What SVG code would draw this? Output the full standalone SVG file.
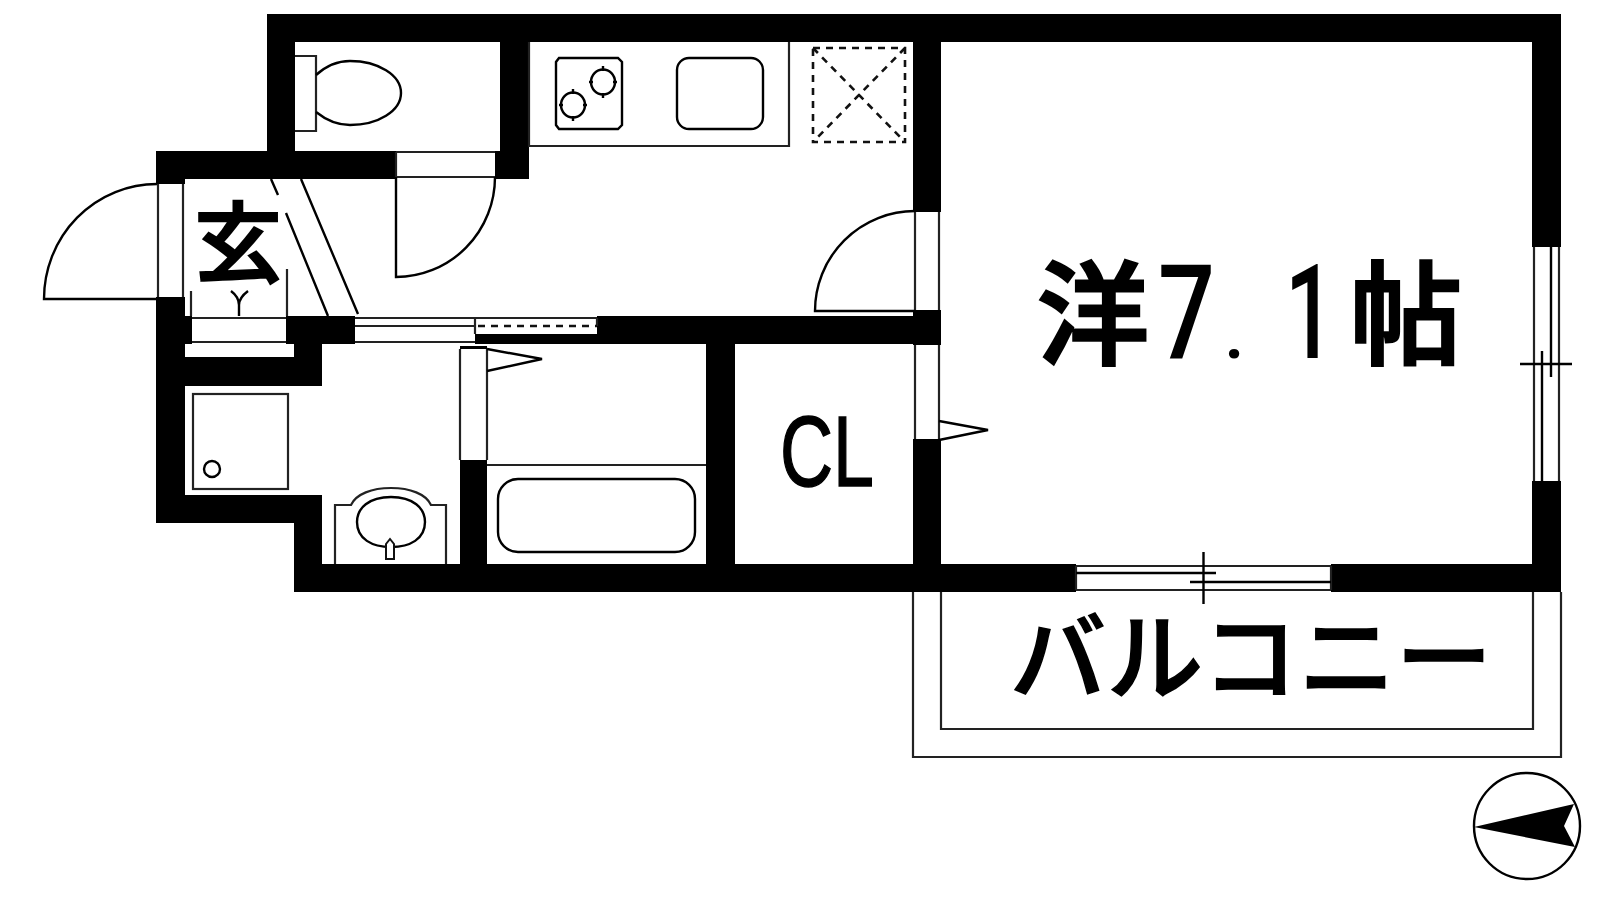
<svg xmlns="http://www.w3.org/2000/svg" width="1600" height="900" viewBox="0 0 1600 900">
<style>
.w{fill:#000}
.l{fill:none;stroke:#222;stroke-width:2.200}
.k{fill:none;stroke:#000;stroke-width:2.400}
.d{fill:none;stroke:#111;stroke-width:2.600;stroke-dasharray:7 6}
.t{fill:#000;stroke:#000;font-family:"Noto Sans CJK JP","Liberation Sans",sans-serif;font-weight:500}
.n{fill:#000;font-family:Roboto,"Liberation Sans",sans-serif;font-weight:500}
</style>
<rect width="1600" height="900" fill="#fff"/>
<g id="walls">
<rect class="w" x="267" y="14" width="1294" height="28"/>
<rect class="w" x="267" y="14" width="28" height="140"/>
<rect class="w" x="156" y="151" width="240" height="28"/>
<rect class="w" x="495" y="151" width="34" height="28"/>
<rect class="w" x="500" y="42" width="29" height="137"/>
<rect class="w" x="913" y="42" width="28" height="170"/>
<rect class="w" x="1532" y="14" width="29" height="233"/>
<rect class="w" x="1532" y="481" width="29" height="111"/>
<rect class="w" x="156" y="151" width="29" height="33"/>
<rect class="w" x="156" y="297" width="29" height="226"/>
<rect class="w" x="156" y="495" width="166" height="28"/>
<rect class="w" x="294" y="495" width="28" height="97"/>
<rect class="w" x="294" y="564" width="782" height="28"/>
<rect class="w" x="1331" y="564" width="230" height="28"/>
<rect class="w" x="185" y="316" width="7" height="28"/>
<rect class="w" x="286" y="316" width="69" height="28"/>
<rect class="w" x="294" y="343" width="28" height="43"/>
<rect class="w" x="185" y="357" width="137" height="29"/>
<rect class="w" x="475" y="334" width="122" height="10"/>
<rect class="w" x="597" y="316" width="344" height="28"/>
<rect class="w" x="913" y="310" width="28" height="35"/>
<rect class="w" x="913" y="439" width="28" height="125"/>
<rect class="w" x="460" y="460" width="27" height="105"/>
<rect class="w" x="460" y="346" width="27" height="3"/>
<rect class="w" x="706" y="344" width="29" height="221"/>
</g>
<g id="entrance">
<path class="l" d="M158 184V297M183 184V297"/>
<path class="k" d="M157 184A113 115 0 0 0 44 299H157"/>
<path class="l" d="M191 291V316M287 269V316M192 318H286M192 342H286"/>
<path class="k" d="M239 316V305C239 298 235 294 231 291M239 305C239 298 244 294 248 291"/>
<path class="k" d="M271 179L278 195M286 213L328 316M301 179L358 314"/>
<text class="t" x="194" y="275" font-size="88" stroke-width="2">玄</text>
</g>
<g id="hall-doors">
<path class="l" d="M355 318H475M355 326H475M355 342H475M475 318V334M475 318H597M597 318V326"/>
<path class="d" d="M478 326H597" stroke-dasharray="6 5"/>
<path class="l" d="M396 152H495M396 177H495M396 152V178"/>
<path class="k" d="M396 177V277A99 100 0 0 0 495 177"/>
<path class="l" d="M915 212V310M939 212V310M915 345V439M939 345V439"/>
<path class="k" d="M915 211A100 100 0 0 0 815 311H915"/>
<path class="k" d="M939 421L988 430L939 440"/>
</g>
<g id="toilet">
<path class="l" d="M295 56H316V131H295"/>
<path class="k" d="M316 75C326 66 338 61 350 61C378 61 401 75 401 93C401 111 378 125 350 125C338 125 326 120 316 112"/>
</g>
<g id="kitchen">
<path class="l" d="M529 42V146H789V42"/>
<path class="k" d="M559 58H618L622 62V125L618 129H559L556 125V62Z"/>
<rect class="k" x="677" y="58" width="86" height="71" rx="12"/>
<ellipse class="k" cx="603" cy="82" rx="12" ry="12.500"/>
<ellipse class="k" cx="573" cy="105" rx="12" ry="12.500"/>
<path class="k" stroke-width="1.500" d="M603 66V71M603 93V98M589 82H593M613 82H617M573 89V94M573 116V121M559 105H563M583 105H587"/>
<rect class="d" x="813" y="48" width="92" height="94"/>
<path class="d" d="M813 48L905 142M905 48L813 142"/>
</g>
<g id="bath">
<path class="l" d="M460 349V460M487 349V460M487 465H706"/>
<path class="k" d="M487 349L542 359L487 371"/>
<rect class="k" x="498" y="479" width="197" height="73" rx="20"/>
</g>
<g id="washroom">
<rect class="l" x="193" y="394" width="95" height="95" stroke-width="2.400"/>
<ellipse class="k" cx="212" cy="469" rx="8" ry="8"/>
<path class="l" d="M335 564V505H351C356 494 372 488 391 488C410 488 426 494 431 505H446V564"/>
<path class="k" d="M391 497C413 497 425 508 425 522C425 539 410 547 391 547C372 547 357 539 357 522C357 508 369 497 391 497Z"/>
<path fill="#fff" stroke="#111" stroke-width="2" d="M386 559V544L390 539L394 544V559Z"/>
</g>
<g id="windows">
<path class="l" d="M1534 247V481M1559 247V481"/>
<path class="k" d="M1551 247V377M1542 351V481M1520 364H1572"/>
<path class="l" d="M1076 566H1331M1076 590H1331M1076 566V590M1331 566V590"/>
<path class="k" d="M1076 573H1216M1190 582H1331M1203.500 552V604"/>
</g>
<g id="balcony">
<path class="l" d="M913 592V757H1561V592"/>
<path class="l" d="M941 592V729H1533V592"/>
<text class="t" x="1010" y="692" font-size="96" stroke-width="1.500" textLength="482" lengthAdjust="spacing">バルコニー</text>
</g>
<g id="labels">
<text class="t" x="1037" y="356" font-size="112" stroke-width="3">洋</text>
<text class="n" transform="translate(1158 358) scale(.76 1)" font-size="132">7</text>
<text class="n" x="1224" y="358" font-size="75">.</text>
<text class="n" transform="translate(1285 358) scale(.66 1)" font-size="132">1</text>
<text class="t" x="1350" y="356" font-size="112" stroke-width="3">帖</text>
<text font-family="Liberation Sans, sans-serif" x="780" y="486" font-size="100" stroke="#000" stroke-width="1.500" textLength="94" lengthAdjust="spacingAndGlyphs">CL</text>
</g>
<g id="compass">
<circle class="k" cx="1527" cy="826" r="53"/>
<path fill="#000" d="M1474 827L1574 804L1564 826L1575 847Z"/>
</g>
</svg>
